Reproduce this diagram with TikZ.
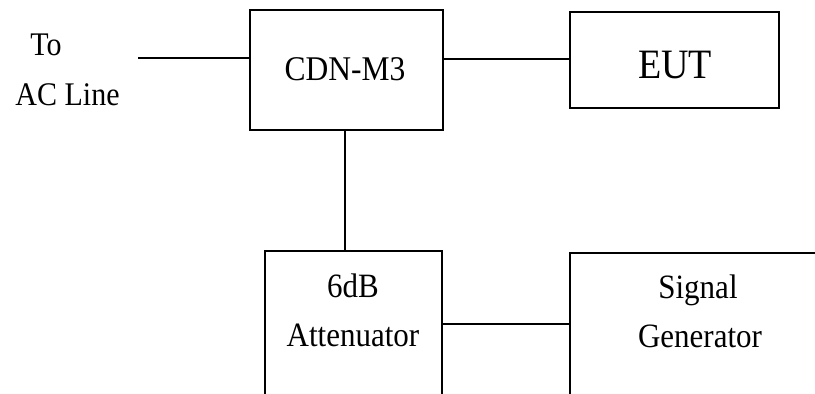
\documentclass[tikz,border=0pt]{standalone}
\usepackage{fontspec}
\usepackage{graphicx}
\setmainfont{Liberation Serif}
% lettering in this drawing is set a little taller than the plain face
\newcommand{\vstretch}[1]{\scalebox{1}[1.1]{#1}}
\begin{document}
\begin{tikzpicture}[x=1pt,y=-1pt,
  blockbox/.style={draw=black, line width=2pt, rectangle, inner sep=0pt},
  wire/.style={draw=black, line width=2pt},
  lbl/.style={inner sep=0pt, anchor=base},
  smalltxt/.style={lbl, font=\fontsize{30}{36}\selectfont},
  midtxt/.style={lbl, font=\fontsize{31}{37}\selectfont},
  bigtxt/.style={lbl, font=\fontsize{38}{44}\selectfont},
]
\useasboundingbox (0,0) rectangle (815,394);
\clip (0,0) rectangle (815,394);

% Upper blocks
\node[blockbox, minimum width=193pt, minimum height=120pt] (cdn) at (346.5,70) {};
\node[midtxt, font=\fontsize{31.5}{37}\selectfont] (cdnlbl) at (345,80) {\vstretch{CDN-M3}};

\node[blockbox, minimum width=209pt, minimum height=96pt] (eut) at (674.5,60) {};
\node[bigtxt] (eutlbl) at (675,78) {\vstretch{EUT}};

% Lower blocks run past the bottom edge
\node[blockbox, minimum width=177pt, minimum height=200pt] (att) at (353.5,351) {};
\node[midtxt] (attlbla) at (353,297) {\vstretch{6dB}};
\node[midtxt] (attlblb) at (353,346) {\vstretch{Attenuator}};

\node[blockbox, minimum width=300pt, minimum height=200pt] (sg) at (720,353) {};
\node[midtxt] (sglbla) at (698,298) {\vstretch{Signal}};
\node[midtxt] (sglblb) at (700,347) {\vstretch{Generator}};

% Supply label
\node[smalltxt] (tolbl) at (46,55) {\vstretch{To}};
\node[smalltxt] (aclbl) at (67.5,105) {\vstretch{AC Line}};

% Connectors
\coordinate (acend) at (138,57.5);
\draw[wire] (acend) -- (acend -| cdn.west);
\coordinate (cdnout) at (443,58.5);
\draw[wire] (cdnout) -- (cdnout -| eut.west);
\draw[wire] (cdn.south -| 345.3,0) -- (att.north -| 345.3,0);
\coordinate (attout) at (442,324);
\draw[wire] (attout) -- (attout -| sg.west);
\end{tikzpicture}
\end{document}
